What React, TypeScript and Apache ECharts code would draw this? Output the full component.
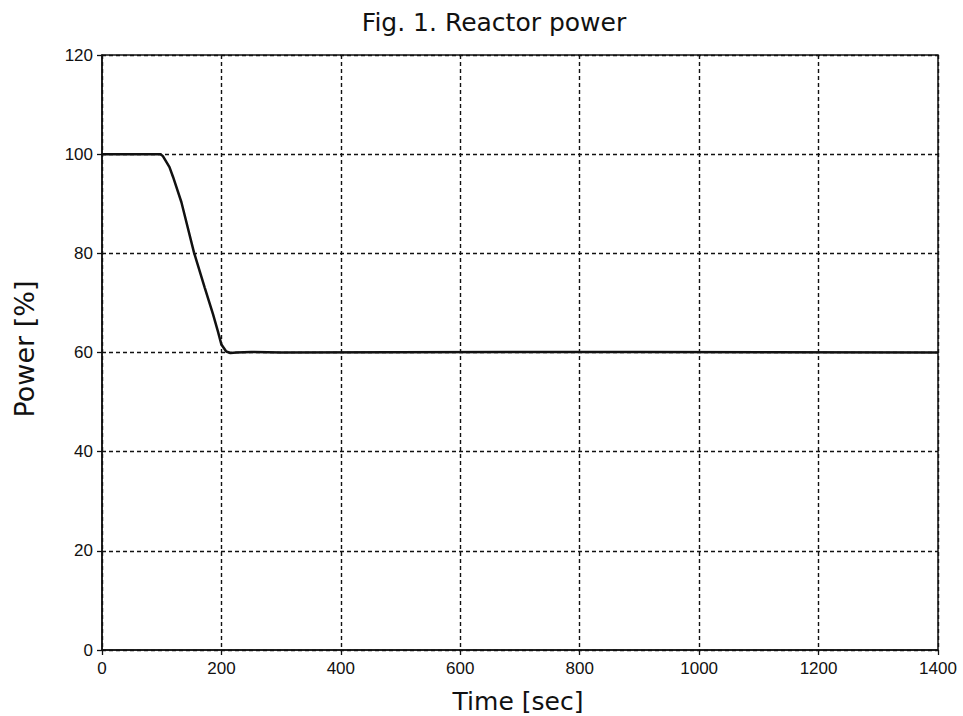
import React, { useEffect, useRef } from "react";
import * as echarts from "echarts";

const titleText = "Fig. 1. Reactor power";
const xName = "Time [sec]";
const yName = "Power [%]";

const timeSec = [0, 98, 102, 113, 119, 133, 154, 172, 186, 194, 200, 208, 215, 225, 250, 300, 700, 900, 1400];
const powerPct = [100, 100, 99.6, 97.4, 95.4, 90.3, 80.2, 73.1, 67.7, 64.3, 61.6, 60.2, 59.9, 60.0, 60.1, 60, 60.1, 60.1, 60];

const xMin = 0, xMax = 1400, xStep = 200;
const yMin = 0, yMax = 120, yStep = 20;

export default function App() {
  const ref = useRef<HTMLDivElement>(null);
  useEffect(() => {
    document.body.style.margin = "0";
    const chart = echarts.init(ref.current!, undefined, { renderer: "svg" });
    const tickFont = { fontFamily: "Liberation Sans, Arial, sans-serif", fontSize: 17, color: "#111", formatter: (v: number) => String(v) };
    const nameFont = "DejaVu Sans, sans-serif";
    chart.setOption({
      animation: false,
      backgroundColor: "#fff",
      grid: { left: 102, right: 25, top: 55, bottom: 66, show: true, borderColor: "#111", borderWidth: 1.5, backgroundColor: "transparent" },
      xAxis: {
        type: "value", min: xMin, max: xMax, interval: xStep,
        axisLine: { show: true, lineStyle: { color: "#111", width: 1.5 } },
        axisTick: { show: true, length: 5, lineStyle: { color: "#111", width: 1.3 } },
        axisLabel: { ...tickFont, margin: 10 },
        splitLine: { show: true, lineStyle: { color: "#111", width: 1.4, type: [4, 3] } },
      },
      yAxis: {
        type: "value", min: yMin, max: yMax, interval: yStep,
        axisLine: { show: true, lineStyle: { color: "#111", width: 1.5 } },
        axisTick: { show: true, length: 5, lineStyle: { color: "#111", width: 1.3 } },
        axisLabel: { ...tickFont, margin: 9 },
        splitLine: { show: true, lineStyle: { color: "#111", width: 1.4, type: [4, 3] } },
      },
      graphic: [
        { type: "text", x: 494, y: 22, style: { text: titleText, font: `25px ${nameFont}`, fill: "#111", textAlign: "center", textVerticalAlign: "middle" } },
        { type: "text", x: 518, y: 701, style: { text: xName, font: `25px ${nameFont}`, fill: "#111", textAlign: "center", textVerticalAlign: "middle" } },
        { type: "text", x: 24, y: 349, rotation: Math.PI / 2, style: { text: yName, font: `27px ${nameFont}`, fill: "#111", textAlign: "center", textVerticalAlign: "middle" } },
      ],
      series: [
        {
          type: "line",
          data: timeSec.map((t, i) => [t, powerPct[i]]),
          showSymbol: false,
          lineStyle: { color: "#111", width: 2.5 },
          z: 5,
        },
      ],
    });
    return () => chart.dispose();
  }, []);
  return <div ref={ref} style={{ width: 963, height: 716 }} />;
}
